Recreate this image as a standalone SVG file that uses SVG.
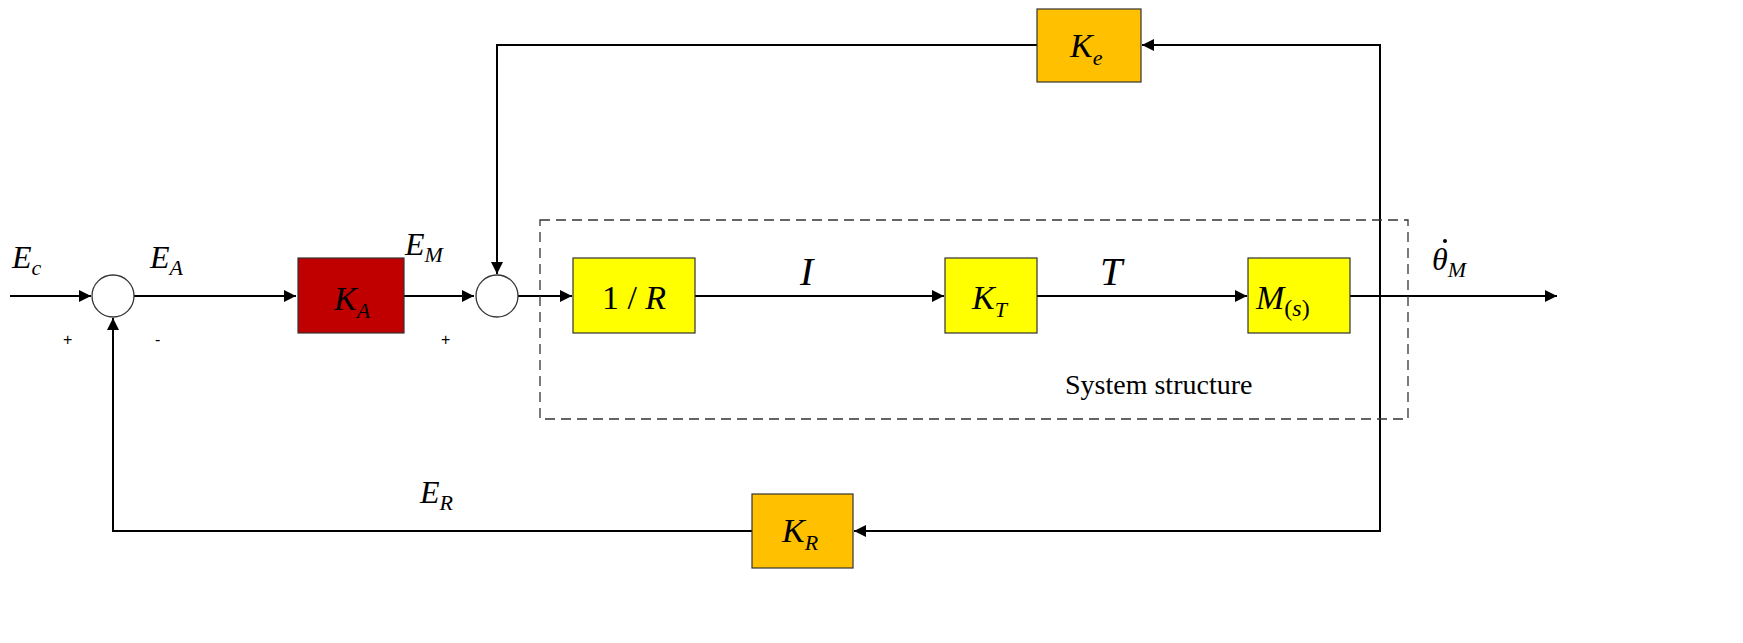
<svg xmlns="http://www.w3.org/2000/svg" width="1743" height="643" viewBox="0 0 1743 643">
<style>
.l{stroke:#000;stroke-width:2;fill:none}
.b{stroke:#333;stroke-width:1.2}
.t{font-family:"Liberation Serif",serif;font-style:italic;fill:#000}
.n{font-family:"Liberation Serif",serif;fill:#000}
.s{font-family:"Liberation Sans",sans-serif;font-size:16px;fill:#000}
</style>
<defs>
<marker id="ab" viewBox="0 0 10 10" refX="10" refY="5" markerWidth="16" markerHeight="12" markerUnits="userSpaceOnUse" orient="auto"><path d="M0,0L10,5L0,10z" fill="#000"/></marker></defs>
<rect width="1743" height="643" fill="#fff"/>
<g id="connectors">
<path class="l" d="M10,296H91" marker-end="url(#ab)"/>
<path class="l" d="M134,296H296" marker-end="url(#ab)"/>
<path class="l" d="M404,296H474" marker-end="url(#ab)"/>
<path class="l" d="M518,296H572" marker-end="url(#ab)"/>
<path class="l" d="M695,296H944" marker-end="url(#ab)"/>
<path class="l" d="M1037,296H1247" marker-end="url(#ab)"/>
<path class="l" d="M1350,296H1557" marker-end="url(#ab)"/>
<path class="l" d="M1380,296V45H1142" marker-end="url(#ab)"/>
<path class="l" d="M1037,45H497V274" marker-end="url(#ab)"/>
<path class="l" d="M1380,296V531H854" marker-end="url(#ab)"/>
<path class="l" d="M752,531H113V318" marker-end="url(#ab)"/>
</g>
<rect x="540" y="220" width="868" height="199" fill="none" stroke="#333" stroke-width="1.3" stroke-dasharray="10,6"/>
<text class="n" x="1065" y="394" font-size="28">System structure</text>
<g id="sum1"><circle cx="113" cy="296" r="21" fill="#fff" stroke="#333" stroke-width="1.3"/></g>
<g id="sum2"><circle cx="497" cy="296" r="21" fill="#fff" stroke="#333" stroke-width="1.3"/></g>
<g id="KA"><rect class="b" x="298" y="258" width="106" height="75" fill="#c00000"/><text class="t" x="334" y="310" font-size="34">K<tspan font-size="22" dy="8">A</tspan></text></g>
<g id="R"><rect class="b" x="573" y="258" width="122" height="75" fill="#ffff00"/><text class="n" x="634" y="309" font-size="34" text-anchor="middle">1 / <tspan font-style="italic">R</tspan></text></g>
<g id="KT"><rect class="b" x="945" y="258" width="92" height="75" fill="#ffff00"/><text class="t" x="972" y="309" font-size="34">K<tspan font-size="22" dy="8">T</tspan></text></g>
<g id="M"><rect class="b" x="1248" y="258" width="102" height="75" fill="#ffff00"/><text class="t" x="1256" y="309" font-size="34">M<tspan font-size="24" dy="7" font-style="normal">(<tspan font-style="italic">s</tspan>)</tspan></text></g>
<g id="Ke"><rect class="b" x="1037" y="9" width="104" height="73" fill="#ffc000"/><text class="t" x="1070" y="57" font-size="34">K<tspan font-size="22" dy="8">e</tspan></text></g>
<g id="KR"><rect class="b" x="752" y="494" width="101" height="74" fill="#ffc000"/><text class="t" x="782" y="542" font-size="34">K<tspan font-size="22" dy="8">R</tspan></text></g>
<g id="labels">
<text class="t" x="12" y="268" font-size="32">E<tspan font-size="22" dy="7">c</tspan></text>
<text class="t" x="150" y="268" font-size="32">E<tspan font-size="22" dy="7">A</tspan></text>
<text class="t" x="405" y="255" font-size="32">E<tspan font-size="22" dy="7">M</tspan></text>
<text class="t" x="420" y="503" font-size="32">E<tspan font-size="22" dy="7">R</tspan></text>
<text class="t" x="800" y="285" font-size="40">I</text>
<text class="t" x="1100" y="285" font-size="40">T</text>
<text class="t" x="1432" y="270" font-size="32">θ<tspan font-size="22" dy="7">M</tspan></text>
<circle cx="1445" cy="241" r="2" fill="#000"/>
<text class="s" x="63" y="345">+</text>
<text class="s" x="155" y="345">-</text>
<text class="s" x="441" y="345">+</text>
</g>
</svg>
